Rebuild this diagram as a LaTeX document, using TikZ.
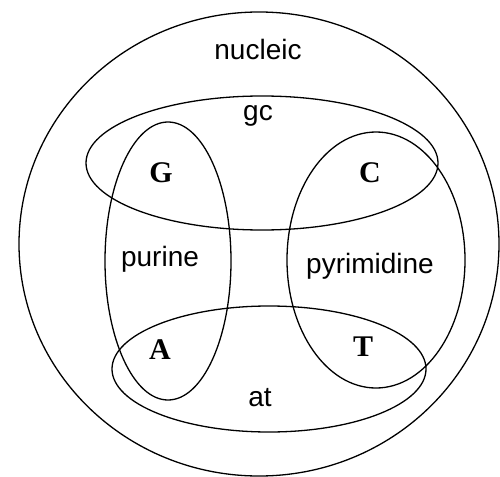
\documentclass[tikz,border=0pt]{standalone}
\usepackage{fontspec}
\setmainfont{Liberation Sans}
\newfontfamily\serifbold{Liberation Serif}
\begin{document}
\begin{tikzpicture}[x=1pt,y=-1pt,
  setline/.style={draw=black,line width=1.3pt},
  lbl/.style={font=\fontsize{28}{32}\selectfont,inner sep=0pt},
  base/.style={font=\serifbold\bfseries\fontsize{30}{34}\selectfont,inner sep=0pt}]
\useasboundingbox (0,0) rectangle (500,476);
\clip (0,0) rectangle (500,476);
\fill[white] (0,0) rectangle (500,476);
% outer set
\draw[setline] (259,244) ellipse [x radius=240, y radius=232];
% gc
\draw[setline] (262,163) ellipse [x radius=176, y radius=67];
% at
\draw[setline] (269,369) ellipse [x radius=157, y radius=63];
% purine
\draw[setline] (168,261) ellipse [x radius=63, y radius=139];
% pyrimidine
\draw[setline] (376,260) ellipse [x radius=89, y radius=128];
% labels
\node[lbl] (nucleic) at (258,49) {nucleic};
\node[lbl] (gc) at (258,116) {gc};
\node[lbl] (purine) at (160,259) {purine};
\node[lbl] (pyrimidine) at (370,266) {pyrimidine};
\node[lbl] (at) at (260,398) {at};
\node[base] (G) at (161,173) {G};
\node[base] (C) at (370,173) {C};
\node[base] (A) at (160,350) {A};
\node[base] (T) at (363,347) {T};
\end{tikzpicture}
\end{document}
